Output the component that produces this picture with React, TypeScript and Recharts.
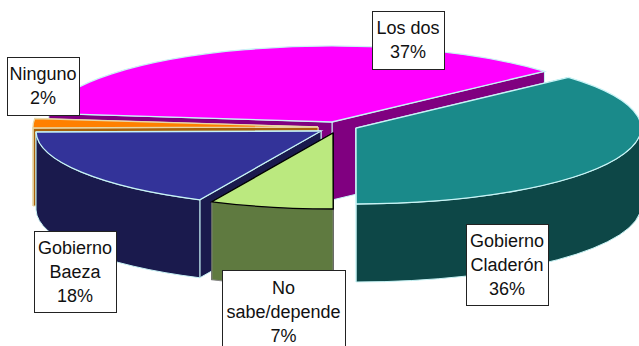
import { PieChart, Pie } from 'recharts';

const names = ['Los dos', 'Ninguno', 'Gobierno Baeza', 'No sabe/depende', 'Gobierno Claderón'];
// slice sizes as drawn; the printed percentages are rounded in the picture
const values = [36.6, 2, 17.8, 7, 36.6];
const percents = ['37%', '2%', '18%', '7%', '36%'];
const labelLines = [['Los dos'], ['Ninguno'], ['Gobierno', 'Baeza'], ['No', 'sabe/depende'], ['Gobierno', 'Claderón']];

const topColors = ['#ff00ff', '#ff8000', '#333399', '#bbe97f', '#1a8a8a'];
const sideColors = ['#800080', '#a8620a', '#1a1a4d', '#5f7a40', '#0d4747'];
const edgeColors = ['#c8f4f6', '#e8d8a8', '#c8f4f6', '#000000', '#c8f4f6'];

// how far each slice is pulled out of the pie, in px
const explodeX = [-1, -15, -12, 0, 23];
const explodeY = [-5, 0, 4, 6, 1];

// label boxes: left, top, width, height
const boxes = [
  [372, 11, 72, 58],
  [7, 57, 72, 58],
  [34, 231, 82, 81],
  [222, 270, 123, 84],
  [466, 224, 82, 81],
];

const data = names.map((name, i) => ({ name, value: values[i], idx: i }));

const RX = 285;
const RY = 76;
const DEPTH = 78;
const rad = Math.PI / 180;

const Slice3D = (props: any) => {
  const i = props.payload?.idx ?? props.idx;
  const cx = props.cx + explodeX[i];
  const cy = props.cy + explodeY[i];
  const s = props.startAngle;
  const e = props.endAngle;
  const px = (a: number) => cx + RX * Math.cos(a * rad);
  const py = (a: number) => cy - RY * Math.sin(a * rad);
  const large = e - s > 180 ? 1 : 0;

  const top = `M${cx},${cy} L${px(s)},${py(s)} A${RX},${RY} 0 ${large} 0 ${px(e)},${py(e)} Z`;
  const face = (a: number) =>
    `M${cx},${cy} L${px(a)},${py(a)} L${px(a)},${py(a) + DEPTH} L${cx},${cy + DEPTH} Z`;

  // the rim only shows on the front half of the ellipse
  const from = Math.max(s, 180);
  const to = Math.min(e, 360);
  const rim =
    to > from
      ? `M${px(from)},${py(from)} A${RX},${RY} 0 0 0 ${px(to)},${py(to)} L${px(to)},${py(to) + DEPTH} A${RX},${RY} 0 0 1 ${px(from)},${py(from) + DEPTH} Z`
      : null;

  const edge = edgeColors[i];
  return (
    <g>
      <path d={face(s)} fill={sideColors[i]} stroke={edge} strokeWidth={1} />
      <path d={face(e)} fill={sideColors[i]} stroke={edge} strokeWidth={1} />
      {rim && <path d={rim} fill={sideColors[i]} stroke={i === 3 ? '#888' : edge} strokeWidth={1} />}
      <path d={top} fill={topColors[i]} stroke={edge} strokeWidth={1.3} />
    </g>
  );
};

const BoxLabel = (props: any) => {
  const i = props.payload?.idx ?? props.index;
  const [x, y, w, h] = boxes[i];
  const lines = [...labelLines[i], percents[i]];
  const mid = x + w / 2;
  const firstY = y + h / 2 - ((lines.length - 1) * 24) / 2 + 6;
  return (
    <g>
      <rect x={x + 0.5} y={y + 0.5} width={w} height={h} fill="#fff" stroke="#222" strokeWidth={1} />
      <text x={mid} y={firstY} textAnchor="middle" fontFamily="Liberation Sans" fontSize={18} fill="#111">
        {lines.map((line, n) => (
          <tspan key={n} x={mid} y={firstY + n * 24}>
            {line}
          </tspan>
        ))}
      </text>
    </g>
  );
};

const App = () => {
  return (
    <div style={{ position: 'absolute', left: 0, top: 0 }}>
      <PieChart width={639} height={346} margin={{ top: 0, right: 0, bottom: 0, left: 0 }}>
        <Pie
          data={data}
          dataKey="value"
          nameKey="name"
          cx={333}
          cy={127}
          innerRadius={0}
          outerRadius={RX}
          startAngle={41.8}
          endAngle={401.8}
          paddingAngle={0}
          stroke="none"
          shape={Slice3D}
          label={BoxLabel}
          labelLine={false}
          isAnimationActive={false}
        />
      </PieChart>
    </div>
  );
};

export default App;
